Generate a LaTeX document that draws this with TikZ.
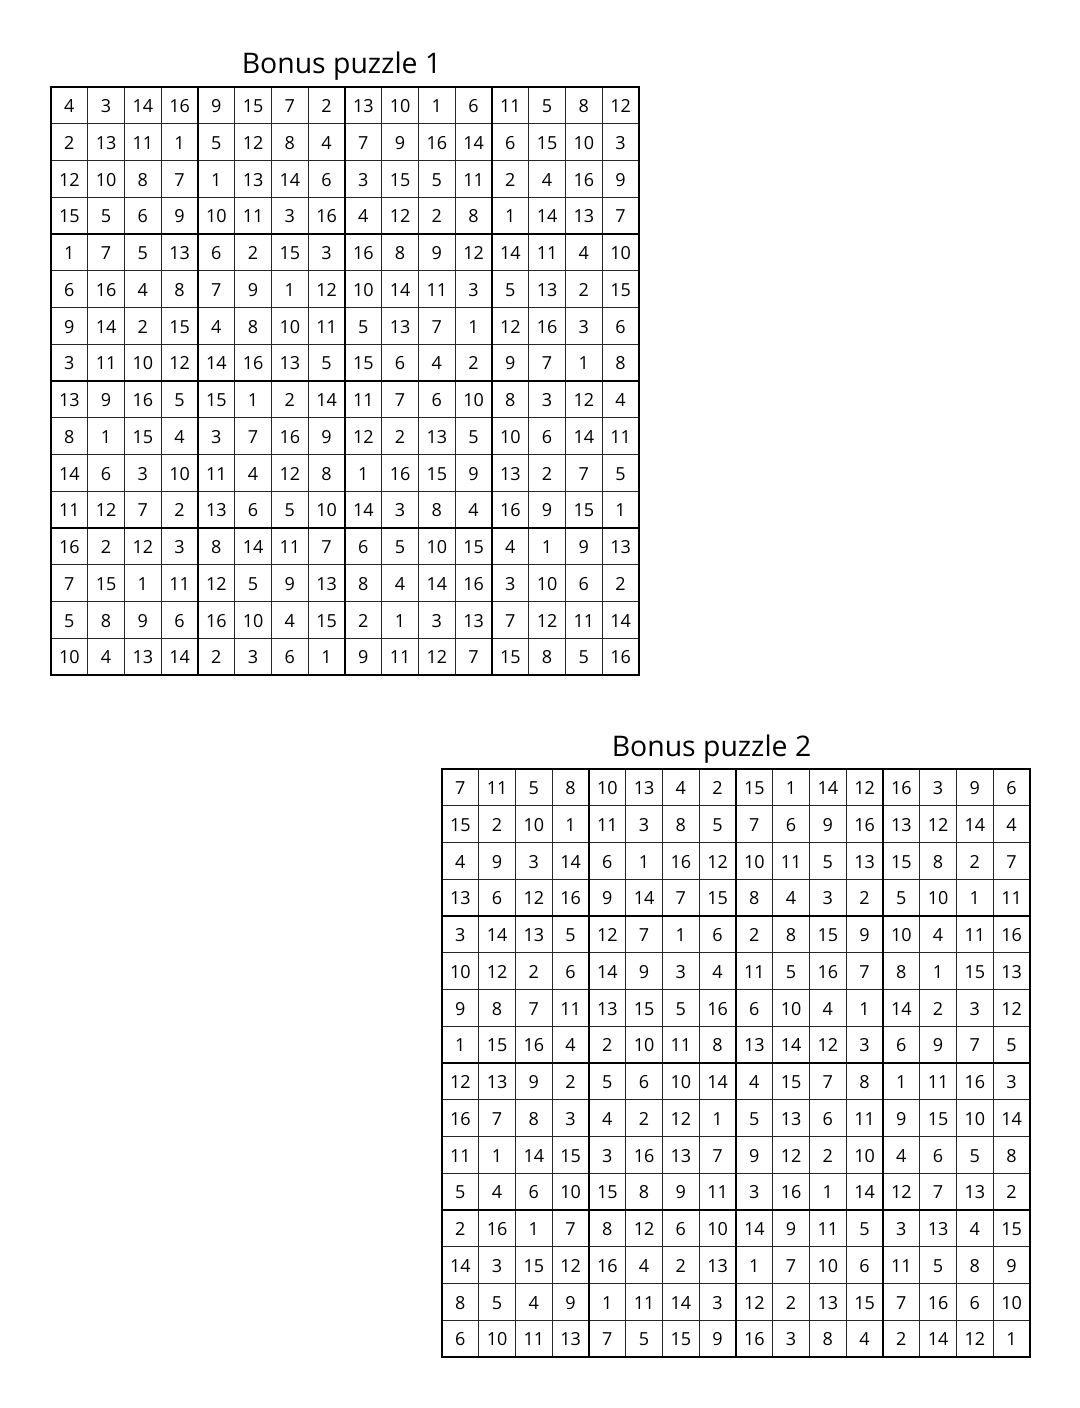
\documentclass[tikz,border=0pt]{standalone}
\usepackage{fontspec}
\setmainfont{Open Sans}
\begin{document}
\begin{tikzpicture}[x=0.75pt,y=-0.75pt,
  thinline/.style={line width=0.8pt,draw=black!85},
  thickline/.style={line width=1.9pt,draw=black},
  cellnum/.style={inner sep=0pt,anchor=base,font=\fontsize{13.5}{16}\selectfont},
  titletext/.style={inner sep=0pt,anchor=base,font=\fontsize{21.3}{25}\selectfont}]
\useasboundingbox (0,0) rectangle (1080,1408);
\def\cs{36.75}
% ---------- titles ----------
\node[titletext] (t1) at (341.5,74) {Bonus puzzle 1};
\node[titletext] (t2) at (711.5,756) {Bonus puzzle 2};
% ---------- grid 1 ----------
\begin{scope}[shift={(51,87)}]
  \foreach \i in {1,...,15}{
    \draw[thinline] (\i*\cs,0) -- (\i*\cs,588);
    \draw[thinline] (0,\i*\cs) -- (588,\i*\cs);
  }
  \foreach \i in {0,4,8,12,16}{
    \draw[thickline,line cap=rect] (\i*\cs,0) -- (\i*\cs,588);
    \draw[thickline,line cap=rect] (0,\i*\cs) -- (588,\i*\cs);
  }
  \foreach \row [count=\r] in {
    {4,3,14,16,9,15,7,2,13,10,1,6,11,5,8,12},
    {2,13,11,1,5,12,8,4,7,9,16,14,6,15,10,3},
    {12,10,8,7,1,13,14,6,3,15,5,11,2,4,16,9},
    {15,5,6,9,10,11,3,16,4,12,2,8,1,14,13,7},
    {1,7,5,13,6,2,15,3,16,8,9,12,14,11,4,10},
    {6,16,4,8,7,9,1,12,10,14,11,3,5,13,2,15},
    {9,14,2,15,4,8,10,11,5,13,7,1,12,16,3,6},
    {3,11,10,12,14,16,13,5,15,6,4,2,9,7,1,8},
    {13,9,16,5,15,1,2,14,11,7,6,10,8,3,12,4},
    {8,1,15,4,3,7,16,9,12,2,13,5,10,6,14,11},
    {14,6,3,10,11,4,12,8,1,16,15,9,13,2,7,5},
    {11,12,7,2,13,6,5,10,14,3,8,4,16,9,15,1},
    {16,2,12,3,8,14,11,7,6,5,10,15,4,1,9,13},
    {7,15,1,11,12,5,9,13,8,4,14,16,3,10,6,2},
    {5,8,9,6,16,10,4,15,2,1,3,13,7,12,11,14},
    {10,4,13,14,2,3,6,1,9,11,12,7,15,8,5,16}}{
    \foreach \v [count=\c] in \row {
      \node[cellnum] (a-\r-\c) at ({(\c-0.5)*\cs},{(\r-0.5)*\cs+7.3}) {\v};
    }
  }
\end{scope}
% ---------- grid 2 ----------
\begin{scope}[shift={(442,769)}]
  \foreach \i in {1,...,15}{
    \draw[thinline] (\i*\cs,0) -- (\i*\cs,588);
    \draw[thinline] (0,\i*\cs) -- (588,\i*\cs);
  }
  \foreach \i in {0,4,8,12,16}{
    \draw[thickline,line cap=rect] (\i*\cs,0) -- (\i*\cs,588);
    \draw[thickline,line cap=rect] (0,\i*\cs) -- (588,\i*\cs);
  }
  \foreach \row [count=\r] in {
    {7,11,5,8,10,13,4,2,15,1,14,12,16,3,9,6},
    {15,2,10,1,11,3,8,5,7,6,9,16,13,12,14,4},
    {4,9,3,14,6,1,16,12,10,11,5,13,15,8,2,7},
    {13,6,12,16,9,14,7,15,8,4,3,2,5,10,1,11},
    {3,14,13,5,12,7,1,6,2,8,15,9,10,4,11,16},
    {10,12,2,6,14,9,3,4,11,5,16,7,8,1,15,13},
    {9,8,7,11,13,15,5,16,6,10,4,1,14,2,3,12},
    {1,15,16,4,2,10,11,8,13,14,12,3,6,9,7,5},
    {12,13,9,2,5,6,10,14,4,15,7,8,1,11,16,3},
    {16,7,8,3,4,2,12,1,5,13,6,11,9,15,10,14},
    {11,1,14,15,3,16,13,7,9,12,2,10,4,6,5,8},
    {5,4,6,10,15,8,9,11,3,16,1,14,12,7,13,2},
    {2,16,1,7,8,12,6,10,14,9,11,5,3,13,4,15},
    {14,3,15,12,16,4,2,13,1,7,10,6,11,5,8,9},
    {8,5,4,9,1,11,14,3,12,2,13,15,7,16,6,10},
    {6,10,11,13,7,5,15,9,16,3,8,4,2,14,12,1}}{
    \foreach \v [count=\c] in \row {
      \node[cellnum] (b-\r-\c) at ({(\c-0.5)*\cs},{(\r-0.5)*\cs+7.3}) {\v};
    }
  }
\end{scope}
\end{tikzpicture}
\end{document}
